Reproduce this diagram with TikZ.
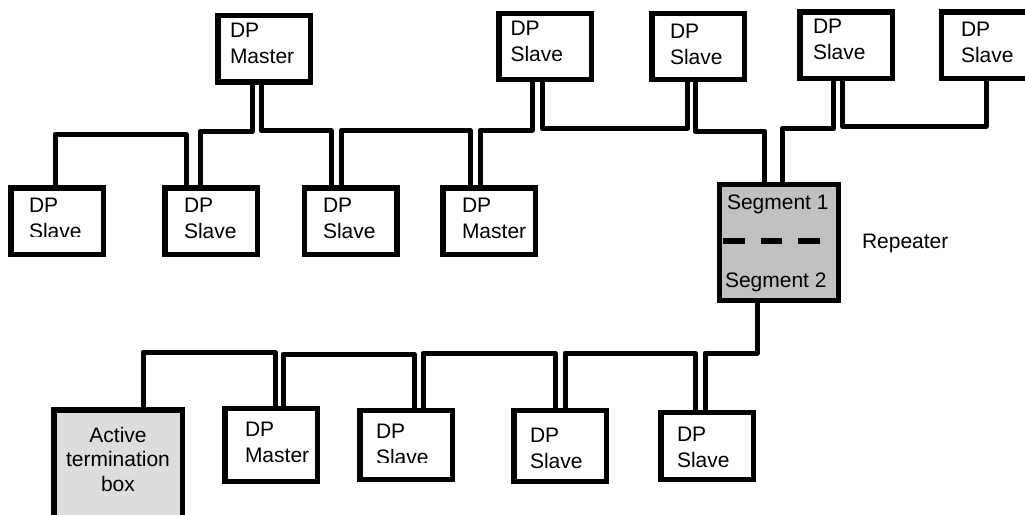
\documentclass[tikz,border=0pt]{standalone}
\usepackage{fontspec}
\setmainfont{Liberation Sans}
\definecolor{repgray}{HTML}{C0C0C0}
\definecolor{termgray}{HTML}{DDDDDD}
\tikzset{
  dpbox/.style={draw=black,line width=5.5pt,fill=white,inner sep=0pt,outer sep=0pt,minimum width=92.5pt,minimum height=66.5pt},
  bus/.style={draw=black,line width=5pt,line join=round},
  lbl/.style={inner sep=0pt,outer sep=0pt,align=left,anchor=base west,font=\fontsize{21}{25.5}\selectfont,text=black},
  ctr/.style={inner sep=0pt,outer sep=0pt,align=center,anchor=base,font=\fontsize{21}{24.5}\selectfont,text=black},
  sdash/.style={draw=black,line width=6pt,dash pattern=on 21.5pt off 16pt}
}
\begin{document}
\begin{tikzpicture}[x=1pt,y=-1pt]
\path[use as bounding box,clip] (0,0) rectangle (1025,514);
% boxes
\node[dpbox] (tm) at (264,48.5) {};
\node[dpbox,minimum height=66pt] (ts1) at (545,46.5) {};
\node[dpbox,minimum height=66pt] (ts2) at (698,46.5) {};
\node[dpbox] (ts3) at (846,45) {};
\node[dpbox,minimum width=100pt] (ts4) at (991.5,45) {};
\node[dpbox] (bs1) at (57,221) {};
\node[dpbox] (bs2) at (211,221) {};
\node[dpbox] (bs3) at (350.5,221) {};
\node[dpbox] (bm) at (489,221) {};
\node[dpbox,fill=repgray,minimum width=119pt,minimum height=116pt] (rep) at (779,242.5) {};
\node[dpbox,fill=termgray,minimum width=128.5pt,minimum height=126pt] (term) at (118,473) {};
\node[dpbox,minimum height=73pt] (lm) at (271,445) {};
\node[dpbox,minimum height=69pt] (ls1) at (406,445) {};
\node[dpbox,minimum height=71pt] (ls2) at (560,446) {};
\node[dpbox,minimum height=67pt] (ls3) at (707,446) {};
% connectors
\draw[bus] ([xshift=-12pt]tm.south) -- ++(0,50) -| ([xshift=-11pt]bs2.north);
\draw[bus] ([xshift=-3pt]tm.south) -- ++(0,49) -| ([xshift=-19.5pt]bs3.north);
\draw[bus] ([xshift=-2pt]bs1.north) -- ++(0,-53.5) -| ([xshift=-25pt]bs2.north);
\draw[bus] ([xshift=-9.5pt]bs3.north) -- ++(0,-57.5) -| ([xshift=-19pt]bm.north);
\draw[bus] ([xshift=-9pt]bm.north) -- ++(0,-57.5) -| ([xshift=-13pt]ts1.south);
\draw[bus] ([xshift=-2.5pt]ts1.south) -- ++(0,49) -| ([xshift=-10.5pt]ts2.south);
\draw[bus] ([xshift=-3pt]ts2.south) -- ++(0,51.5) -| ([xshift=-15pt]rep.north);
\draw[bus] ([xshift=3pt]rep.north) -- ++(0,-56) -| ([xshift=-12.5pt]ts3.south);
\draw[bus] ([xshift=-3.5pt]ts3.south) -- ++(0,48) -| ([xshift=-5.5pt]ts4.south);
\draw[bus] ([xshift=-22pt]rep.south) -- ++(0,52.5) -| ([xshift=-2pt]ls3.north);
\draw[bus] ([xshift=-12pt]ls3.north) -- ++(0,-59.5) -| ([xshift=5pt]ls2.north);
\draw[bus] ([xshift=-5pt]ls2.north) -- ++(0,-57.5) -| ([xshift=17pt]ls1.north);
\draw[bus] ([xshift=8pt]ls1.north) -- ++(0,-56.5) -| ([xshift=12pt]lm.north);
\draw[bus] ([xshift=4pt]lm.north) -- ++(0,-56.5) -| ([xshift=25pt]term.north);
% dashed divider
\coordinate (dl) at (723,241);
\coordinate (dr) at (837,241);
\draw[sdash] (dl) -- (dr);
% labels
\node[lbl] (ttm) at (230,63) {DP\\Master};
\node[lbl] (tts1) at (510.5,61) {DP\\Slave};
\node[lbl] (tts2) at (670,64) {DP\\Slave};
\node[lbl] (tts3) at (813,59) {DP\\Slave};
\node[lbl] (tts4) at (961,62) {DP\\Slave};
\begin{scope}
\clip (0,180) rectangle (100,236);
\node[lbl] (tbs1) at (29,238) {DP\\Slave};
\end{scope}
\node[lbl] (tbs2) at (184,238) {DP\\Slave};
\node[lbl] (tbs3) at (323,238) {DP\\Slave};
\node[lbl] (tbm) at (462,238) {DP\\Master};
\node[lbl] (tseg1) at (727,209) {Segment 1};
\node[lbl] (tseg2) at (725,287) {Segment 2};
\node[lbl] (trep) at (862,248) {Repeater};
\node[ctr] (tterm) at (118,491) {Active\\termination\\box};
\node[lbl] (tlm) at (245,462) {DP\\Master};
\begin{scope}
\clip (360,410) rectangle (452,462);
\node[lbl] (tls1) at (376,464) {DP\\Slave};
\end{scope}
\node[lbl] (tls2) at (530,468) {DP\\Slave};
\node[lbl] (tls3) at (677,467) {DP\\Slave};
\end{tikzpicture}
\end{document}
